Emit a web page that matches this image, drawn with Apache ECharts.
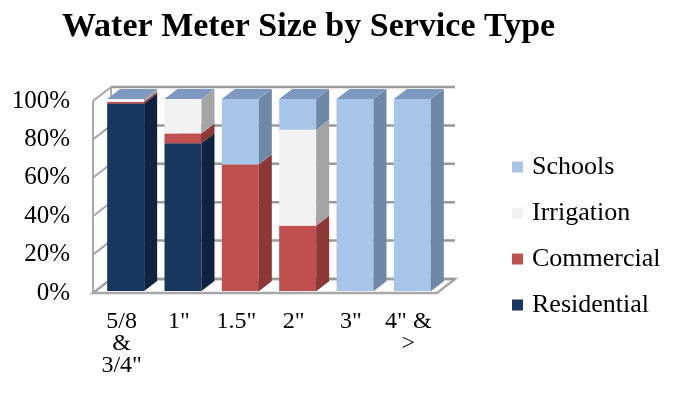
<!DOCTYPE html>
<html>
<head>
<meta charset="utf-8">
<script src="https://cdn.jsdelivr.net/npm/echarts@6/dist/echarts.min.js"></script>
<style>
html,body{margin:0;padding:0;background:#fff;}
#chart{width:678px;height:398px;}
</style>
</head>
<body>
<div id="chart"></div>
<script>
// ---- data ----
const categories = ['5/8\n&\n3/4"', '1"', '1.5"', '2"', '3"', '4" &\n>'];
const residential = [97.5, 77, 0, 0, 0, 0];
const commercial  = [1, 5, 66, 34, 0, 0];
const irrigation  = [1.5, 18, 0, 50, 0, 0];
const schools     = [0, 0, 34, 16, 100, 100];
const yTicks = [0, 20, 40, 60, 80, 100];
const seriesNames = ['Residential', 'Commercial', 'Irrigation', 'Schools'];
const seriesValues = [residential, commercial, irrigation, schools];

// ---- styles ----
const shades = {
  Residential: { front: '#17375E', side: '#0F2340', top: '#2A4C78' },
  Commercial:  { front: '#C0504D', side: '#8C3836', top: '#D07270' },
  Irrigation:  { front: '#F2F2F2', side: '#A5A5A5', top: '#D9D9D9' },
  Schools:     { front: '#A7C5E9', side: '#6E88A8', top: '#7D99BF' }
};
const WDX = 18, WDY = -14;   // wall depth
const BOX = 4, BOY = -2;     // bar offset from front plane
const BDX = 13, BDY = -10;   // bar depth
const FONT = 'Liberation Serif';

// stacked bases
const bases = seriesValues.map(() => []);
categories.forEach((c, i) => {
  let acc = 0;
  seriesValues.forEach((vals, s) => { bases[s][i] = acc; acc += vals[i]; });
});

function wallRender(params, api) {
  const cs = params.coordSys;
  const L = cs.x, R = cs.x + cs.width;
  const y0 = api.coord([0, 0])[1];
  const y100 = api.coord([0, 100])[1];
  const gray = '#9a9a9a';
  const kids = [];
  // floor
  kids.push({ type: 'polygon', shape: { points: [[L, y0], [R, y0], [R + WDX, y0 + WDY], [L + WDX, y0 + WDY]] },
    style: { fill: '#fff', stroke: '#a8a8a8', lineWidth: 2.5 } });
  // back wall gridlines
  yTicks.forEach(v => {
    const y = api.coord([0, v])[1] + WDY;
    kids.push({ type: 'line', shape: { x1: L + WDX, y1: y, x2: R + WDX, y2: y }, style: { stroke: gray, lineWidth: 2.5 } });
  });
  // left wall
  kids.push({ type: 'line', shape: { x1: L, y1: y100, x2: L, y2: y0 }, style: { stroke: '#a8a8a8', lineWidth: 2 } });
  kids.push({ type: 'line', shape: { x1: L + WDX, y1: y100 + WDY, x2: L + WDX, y2: y0 + WDY }, style: { stroke: '#a8a8a8', lineWidth: 2 } });
  yTicks.forEach(v => {
    const y = api.coord([0, v])[1];
    kids.push({ type: 'line', shape: { x1: L, y1: y, x2: L + WDX, y2: y + WDY }, style: { stroke: '#a8a8a8', lineWidth: 2 } });
  });
  return { type: 'group', children: kids };
}

function barRender(name) {
  const c = shades[name];
  return function (params, api) {
    const i = api.value(0), b = api.value(1), v = api.value(2);
    const pb = api.coord([i, b]);
    const pt = api.coord([i, b + v]);
    const w = api.size([1, 0])[0] * 0.645;
    const x0 = pb[0] + BOX - w / 2, x1 = pb[0] + BOX + w / 2;
    const yb = pb[1] + BOY, yt = pt[1] + BOY;
    return { type: 'group', children: [
      { type: 'polygon', shape: { points: [[x0, yb], [x1, yb], [x1, yt], [x0, yt]] }, style: { fill: c.front } },
      { type: 'polygon', shape: { points: [[x1, yb], [x1 + BDX, yb + BDY], [x1 + BDX, yt + BDY], [x1, yt]] }, style: { fill: c.side } },
      { type: 'polygon', shape: { points: [[x0, yt], [x1, yt], [x1 + BDX, yt + BDY], [x0 + BDX, yt + BDY]] }, style: { fill: c.top } }
    ] };
  };
}

const series = [{
  type: 'custom', name: 'walls', renderItem: wallRender, data: [[0, 0]], silent: true, z: 1,
  encode: { x: 0, y: 1 }
}];
seriesNames.forEach((name, s) => {
  series.push({
    type: 'custom', name: name, z: 2 + s,
    itemStyle: { color: shades[name].front },
    renderItem: barRender(name),
    encode: { x: 0, y: [1, 2] },
    data: categories.map((cat, i) => [i, bases[s][i], seriesValues[s][i]])
  });
});

const chart = echarts.init(document.getElementById('chart'), null, { renderer: 'canvas' });
chart.setOption({
  animation: false,
  backgroundColor: '#fff',
  title: {
    text: 'Water Meter Size by Service Type', left: 57, top: 5,
    textStyle: { fontFamily: FONT, fontWeight: 'bold', fontSize: 34, color: '#000' }
  },
  legend: {
    orient: 'vertical', left: 512, top: 154, padding: 0,
    data: ['Schools', 'Irrigation', 'Commercial', 'Residential'],
    icon: 'rect', itemWidth: 11, itemHeight: 11, itemGap: 20,
    textStyle: { fontFamily: FONT, fontSize: 26, color: '#000', lineHeight: 25, padding: [0, 0, 0, 4] }
  },
  grid: { left: 93, right: 241, top: 101, bottom: 105, containLabel: false },
  xAxis: {
    type: 'category', data: categories,
    axisLine: { show: false }, axisTick: { show: false }, splitLine: { show: false },
    axisLabel: { interval: 0, fontFamily: FONT, fontSize: 24, color: '#000', lineHeight: 22, margin: 18 }
  },
  yAxis: {
    type: 'value', min: 0, max: 100, interval: 20,
    axisLine: { show: false }, axisTick: { show: false }, splitLine: { show: false },
    axisLabel: { formatter: '{value}%', fontFamily: FONT, fontSize: 25, color: '#000', margin: 23 }
  },
  series: series
});
</script>
</body>
</html>
